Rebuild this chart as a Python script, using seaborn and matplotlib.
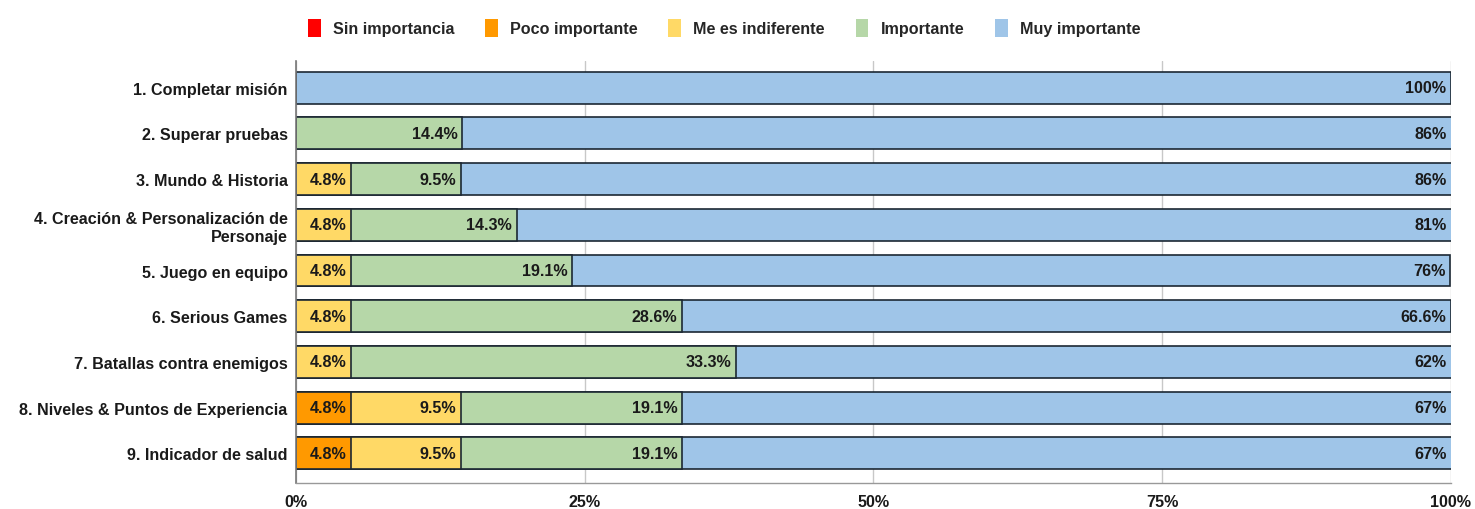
import matplotlib
matplotlib.use("Agg")
import matplotlib.pyplot as plt
from matplotlib.patches import Patch
import seaborn as sns
import pandas as pd
import numpy as np

categories = [
    "1. Completar misión",
    "2. Superar pruebas",
    "3. Mundo & Historia",
    "4. Creación & Personalización de\nPersonaje",
    "5. Juego en equipo",
    "6. Serious Games",
    "7. Batallas contra enemigos",
    "8. Niveles & Puntos de Experiencia",
    "9. Indicador de salud",
]
levels = ["Sin importancia", "Poco importante", "Me es indiferente", "Importante", "Muy importante"]
sin_importancia = [0, 0, 0, 0, 0, 0, 0, 0, 0]
poco_importante = [0, 0, 0, 0, 0, 0, 0, 4.8, 4.8]
indiferente = [0, 0, 4.8, 4.8, 4.8, 4.8, 4.8, 9.5, 9.5]
importante = [0, 14.4, 9.5, 14.3, 19.1, 28.6, 33.3, 19.1, 19.1]
muy_importante = [100, 86, 86, 81, 76, 66.6, 62, 67, 67]
x_ticks = [0, 25, 50, 75, 100]
x_tick_labels = ["0%", "25%", "50%", "75%", "100%"]

colors = ["#FF0000", "#FF9900", "#FFD966", "#B6D7A8", "#9FC5E8"]

sns.set_theme(style="white")
plt.rcParams["font.family"] = ["Liberation Sans", "DejaVu Sans"]

series = [sin_importancia, poco_importante, indiferente, importante, muy_importante]
cum = np.cumsum(np.array(series, dtype=float), axis=0)

fig = plt.figure(figsize=(14.75, 5.1), dpi=100)
ax = fig.add_axes([0.2007, 0.051, 0.783, 0.827])

edge = "#1c2833"
# draw cumulative layers from the outermost inward so each segment shows its own span
for i in range(len(levels) - 1, -1, -1):
    df = pd.DataFrame({"cat": categories, "val": cum[i]})
    sns.barplot(data=df, x="val", y="cat", orient="h", color=colors[i],
                width=0.7, edgecolor=edge, linewidth=1.2, saturation=1,
                ax=ax, zorder=2)

# value labels at the right end of each segment
for j, cat in enumerate(categories):
    for i in range(len(levels)):
        v = series[i][j]
        if v <= 0:
            continue
        end = min(cum[i][j], 100)
        ax.text(end - 0.4, j, f"{v:g}%", ha="right", va="center",
                fontsize=11.6, fontweight="bold", color="#1a1a1a", zorder=5)

ax.set_xlim(0, 100)
ax.set_ylim(8.65, -0.58)
ax.set_xticks(x_ticks)
ax.set_xticklabels(x_tick_labels, fontsize=11.6, fontweight="bold", color="#1a1a1a")
ax.tick_params(axis="y", labelsize=11.6, length=0, pad=6)
ax.tick_params(axis="x", length=0, pad=8)
for lab in ax.get_yticklabels():
    lab.set_fontweight("bold")
    lab.set_color("#1a1a1a")
    lab.set_horizontalalignment("right")
    lab.set_multialignment("right")
ax.set_xlabel("")
ax.set_ylabel("")
ax.xaxis.grid(True, color="#c8c8c8", linewidth=1, zorder=0)
ax.set_axisbelow(True)
for s in ["top", "right"]:
    ax.spines[s].set_visible(False)
ax.spines["left"].set_color("#777777")
ax.spines["bottom"].set_color("#999999")
ax.spines["left"].set_linewidth(1.2)
ax.spines["bottom"].set_linewidth(1.0)

handles = [Patch(facecolor=c, edgecolor="none", label=l) for c, l in zip(colors, levels)]
fig.legend(handles=handles, loc="center", bbox_to_anchor=(0.491, 0.943), ncol=5,
           frameon=False, handlelength=0.8, handleheight=1.3, handletextpad=0.75,
           columnspacing=1.9, prop={"weight": "bold", "size": 11.6})

fig.savefig("out.png", dpi=100, facecolor="white")
